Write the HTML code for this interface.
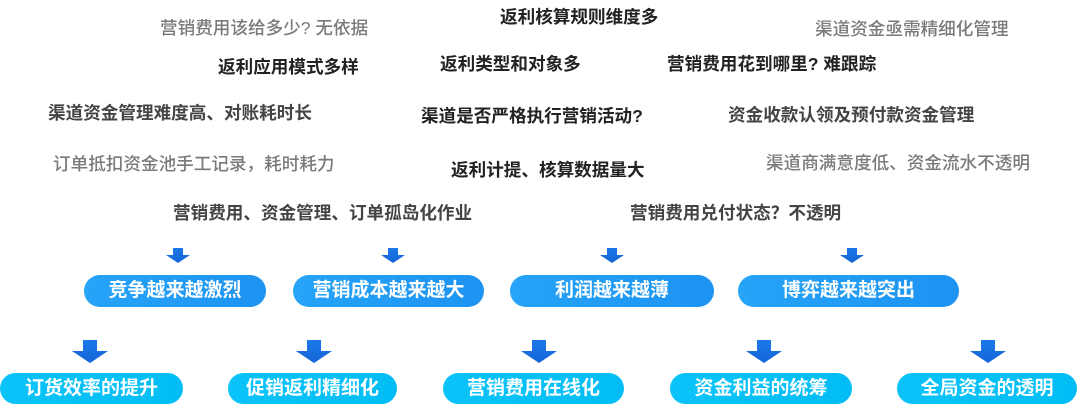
<!DOCTYPE html>
<html><head><meta charset="utf-8"><style>
html,body{margin:0;padding:0;background:#fff;}
#c{position:relative;width:1080px;height:414px;overflow:hidden;font-family:"Liberation Sans","Noto Sans CJK SC",sans-serif;}
.t{position:absolute;font-size:17.6px;line-height:20px;white-space:nowrap;}
.d{color:#222;font-weight:700;}
.m{color:#444;font-weight:700;}
.g{color:#7a7a7a;font-weight:500;}
.p{position:absolute;height:32px;border-radius:16px;color:#fff;font-weight:700;font-size:19px;line-height:32px;text-align:center;white-space:nowrap;}
.r2{top:275px;background:linear-gradient(90deg,#26a4f8,#1d93f2);}
.r3{top:373px;height:31px;line-height:31px;background:linear-gradient(90deg,#0bc3f8,#02bdf5);}
.a{position:absolute;}
</style></head><body><div id="c">
<div class="t g" style="left:160px;top:18px">营销费用该给多少? 无依据</div>
<div class="t d" style="left:500px;top:7px">返利核算规则维度多</div>
<div class="t g" style="left:815px;top:19px">渠道资金亟需精细化管理</div>
<div class="t d" style="left:218px;top:57px">返利应用模式多样</div>
<div class="t d" style="left:440px;top:54px">返利类型和对象多</div>
<div class="t d" style="left:667px;top:54px">营销费用花到哪里? 难跟踪</div>
<div class="t m" style="left:48px;top:103px">渠道资金管理难度高、对账耗时长</div>
<div class="t d" style="left:421px;top:106px">渠道是否严格执行营销活动?</div>
<div class="t m" style="left:728px;top:105px">资金收款认领及预付款资金管理</div>
<div class="t g" style="left:53px;top:154px">订单抵扣资金池手工记录，耗时耗力</div>
<div class="t d" style="left:451px;top:160px">返利计提、核算数据量大</div>
<div class="t g" style="left:766px;top:153px">渠道商满意度低、资金流水不透明</div>
<div class="t m" style="left:173px;top:203px">营销费用、资金管理、订单孤岛化作业</div>
<div class="t m" style="left:630px;top:203px">营销费用兑付状态？不透明</div>

<svg class="a" width="1080" height="414" style="left:0;top:0">
<defs><linearGradient id="ag" x1="0" y1="0" x2="0" y2="1"><stop offset="0" stop-color="#1b78e8"/><stop offset="1" stop-color="#1565d8"/></linearGradient></defs>
<g fill="url(#ag)">
<path d="M173 248h10v7h7l-12 8l-12-8h7z"/>
<path d="M388 248h10v7h7l-12 8l-12-8h7z"/>
<path d="M607 248h10v7h7l-12 8l-12-8h7z"/>
<path d="M847 248h10v7h7l-12 8l-12-8h7z"/>
<path d="M83 340h14v11h11l-18 12l-18-12h11z"/>
<path d="M307 340h14v11h11l-18 12l-18-12h11z"/>
<path d="M532 340h14v11h11l-18 12l-18-12h11z"/>
<path d="M757 340h14v11h11l-18 12l-18-12h11z"/>
<path d="M981 340h14v11h11l-18 12l-18-12h11z"/>
</g></svg>

<div class="p r2" style="left:84px;width:182px">竞争越来越激烈</div>
<div class="p r2" style="left:293px;width:191px">营销成本越来越大</div>
<div class="p r2" style="left:510px;width:204px">利润越来越薄</div>
<div class="p r2" style="left:738px;width:221px">博弈越来越突出</div>

<div class="p r3" style="left:0px;width:183px">订货效率的提升</div>
<div class="p r3" style="left:228px;width:169px">促销返利精细化</div>
<div class="p r3" style="left:443px;width:181px">营销费用在线化</div>
<div class="p r3" style="left:670px;width:182px">资金利益的统筹</div>
<div class="p r3" style="left:897px;width:180px">全局资金的透明</div>
</div></body></html>
